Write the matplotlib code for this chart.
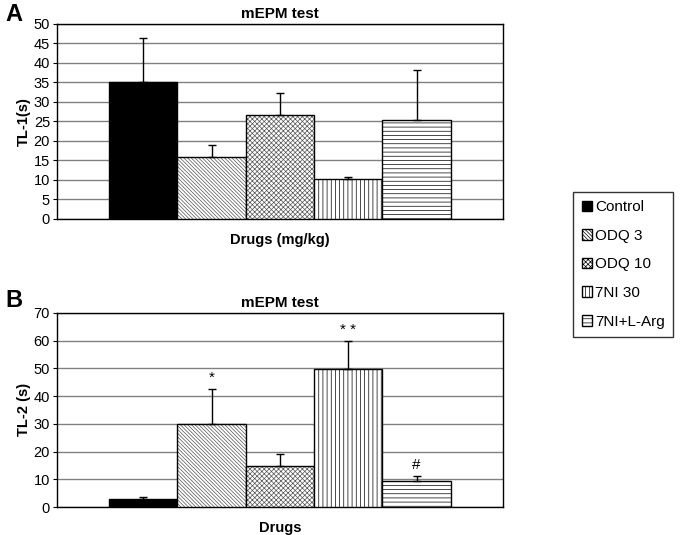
import matplotlib.pyplot as plt
from matplotlib.patches import Patch

plt.rcParams['font.family'] = ['Liberation Sans', 'DejaVu Sans']
plt.rcParams['hatch.linewidth'] = 0.5

# data
groups = ['Control', 'ODQ 3', 'ODQ 10', '7NI 30', '7NI+L-Arg']
tl1_mean = [35.0, 16.0, 26.7, 10.2, 25.4]
tl1_err = [11.5, 3.0, 5.5, 0.6, 12.9]
tl2_mean = [3.0, 29.8, 14.8, 49.8, 9.5]
tl2_err = [0.5, 12.7, 4.4, 9.9, 1.8]
tl2_marks = ['', '*', '', '* *', '#']

colors = ['black', 'white', 'white', 'white', 'white']
hatches = [None, '\\\\\\\\\\\\\\\\\\', 'xxxxxxx', '||||', '----']
hatch_colors = ['black', '#555555', '#555555', 'black', 'black']
xpos = list(range(len(groups)))


def draw_panel(ax, means, errs, ymax, step, ylabel, xlabel):
	''' draw one bar panel in the excel style '''
	for i in xpos:
		# hatch layer then black outline
		ax.bar(i, means[i], width=1.0, color=colors[i], edgecolor=hatch_colors[i],
			hatch=hatches[i], linewidth=0, zorder=3)
		ax.bar(i, means[i], width=1.0, fill=False, edgecolor='black',
			linewidth=1.0, zorder=3)
		ax.errorbar(i, means[i], yerr=[[0], [errs[i]]], color='black',
			capsize=3, elinewidth=1.0, capthick=1.0, zorder=4)
	ax.set_xlim(-1.26, 5.26)
	ax.set_ylim(0, ymax)
	ax.set_yticks(range(0, ymax + 1, step))
	ax.set_xticks([])
	ax.yaxis.grid(True, color='#808080', linewidth=1.0, zorder=0)
	ax.set_axisbelow(True)
	ax.tick_params(axis='y', labelsize=10.5, length=3, pad=2)
	ax.set_title('mEPM test', fontsize=11, fontweight='bold', pad=4)
	ax.set_ylabel(ylabel, fontsize=10.5, fontweight='bold', labelpad=2)
	ax.set_xlabel(xlabel, fontsize=10.5, fontweight='bold', labelpad=10)
	for s in ax.spines.values():
		s.set_linewidth(1.0)


fig = plt.figure(figsize=(6.88, 5.35), dpi=100)
ax1 = fig.add_axes([0.0828, 0.5907, 0.648, 0.3645])
ax2 = fig.add_axes([0.0828, 0.0523, 0.648, 0.3630])

draw_panel(ax1, tl1_mean, tl1_err, 50, 5, 'TL-1(s)', 'Drugs (mg/kg)')
draw_panel(ax2, tl2_mean, tl2_err, 70, 10, 'TL-2 (s)', 'Drugs')

for i in xpos:
	if tl2_marks[i]:
		ax2.text(i, tl2_mean[i] + tl2_err[i] + 1.5, tl2_marks[i], ha='center',
			va='bottom', fontsize=11)

fig.text(0.008, 0.995, 'A', fontsize=17, fontweight='bold', va='top')
fig.text(0.008, 0.46, 'B', fontsize=17, fontweight='bold', va='top')

handles = [Patch(facecolor=colors[i], edgecolor='black', hatch=hatches[i]) for i in xpos]
fig.legend(handles, groups, loc='upper left', bbox_to_anchor=(0.833, 0.641),
	fontsize=11, frameon=True, fancybox=False, edgecolor='black',
	handlelength=0.7, handleheight=0.7, handletextpad=0.2, labelspacing=0.95,
	borderpad=0.55, borderaxespad=0)

fig.savefig('out.png', dpi=100)
